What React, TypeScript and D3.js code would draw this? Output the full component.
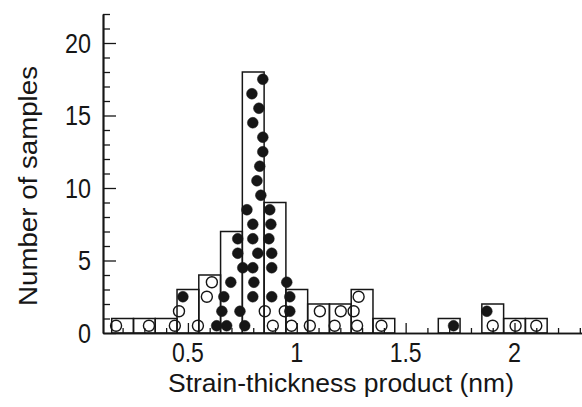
import { useEffect, useRef } from "react";
import * as d3 from "d3";

// histogram: bin centres (nm) and number of samples in each bin
const binCenters = [0.2, 0.3, 0.4, 0.5, 0.6, 0.7, 0.8, 0.9, 1.0, 1.1, 1.2, 1.3, 1.4, 1.5, 1.6, 1.7, 1.8, 1.9, 2.0, 2.1];
const binCounts = [1, 1, 1, 3, 4, 7, 18, 9, 3, 2, 2, 3, 1, 0, 0, 1, 0, 2, 1, 1];
const binWidth = 0.1;

// single samples drawn as dots: value (nm), stack level, filled (1) or open (0)
const sampleValues = [
    0.170, 0.321, 0.440,
    0.546, 0.459, 0.477,
    0.632, 0.656, 0.587, 0.610,
    0.678, 0.739, 0.665, 0.697, 0.752, 0.729, 0.729,
    0.761, 0.798, 0.803, 0.798, 0.821, 0.798, 0.798, 0.771, 0.835, 0.817, 0.830, 0.844, 0.844, 0.798, 0.826, 0.794, 0.844,
    0.890, 0.853, 0.885, 0.954, 0.885, 0.885, 0.872, 0.881, 0.876,
    0.976, 0.945, 0.968, 0.968,
    1.060, 1.106,
    1.174, 1.202,
    1.277, 1.261, 1.284,
    1.389,
    1.720,
    1.900, 1.873,
    2.005,
    2.100,
];
const sampleLevels = [
    1, 1, 1,
    1, 2, 3,
    1, 2, 3, 4,
    1, 2, 3, 4, 5, 6, 7,
    1, 3, 4, 5, 6, 7, 8, 9, 10, 11, 12, 13, 14, 15, 16, 17, 18,
    1, 2, 3, 4, 5, 6, 7, 8, 9,
    1, 2, 2, 3,
    1, 2,
    1, 2,
    1, 2, 3,
    1,
    1,
    1, 2,
    1,
    1,
];
const sampleFilled = [
    0, 0, 0,
    0, 0, 1,
    1, 1, 0, 0,
    1, 1, 1, 1, 1, 1, 1,
    1, 1, 1, 1, 1, 1, 1, 1, 1, 1, 1, 1, 1, 1, 1, 1, 1,
    0, 0, 1, 1, 1, 1, 1, 1, 1,
    0, 0, 1, 1,
    0, 0,
    0, 0,
    0, 0, 0,
    0,
    1,
    0, 1,
    0,
    0,
];

const yTicks = [0, 5, 10, 15, 20];
const xTicks = [0.5, 1, 1.5, 2];

const font = "'Liberation Sans Narrow', 'Liberation Sans', sans-serif";
const ink = '#161616';

// narrow look: squeeze glyphs to a fixed width per character
const labelWidth = (s: string) => s.split('').reduce((w, ch) => w + (ch === '.' ? 6 : 13), 0);

export default function App() {
    const svgRef = useRef<SVGSVGElement | null>(null);
    const wSVG = 582;
    const hSVG = 407;

    useEffect(() => {
        const svg = d3.select(svgRef.current);
        svg.selectAll('*').remove();

        const x = d3.scaleLinear().domain([0.11, 2.31]).range([103, 582]);
        const y = d3.scaleLinear().domain([0, 22]).range([333, 14]);

        // bars
        const bins = binCenters.map((c, i) => ({ c, n: binCounts[i] })).filter(b => b.n > 0);
        svg.append('g')
            .selectAll('rect')
            .data(bins)
            .join('rect')
            .attr('x', d => x(d.c - binWidth / 2))
            .attr('y', d => y(d.n))
            .attr('width', d => x(d.c + binWidth / 2) - x(d.c - binWidth / 2))
            .attr('height', d => y(0) - y(d.n))
            .attr('fill', 'none')
            .attr('stroke', ink)
            .attr('stroke-width', 1.5);

        // axes, ticks pointing inwards
        const minorX = d3.range(2, 24).map(d => d / 10).filter(d => !xTicks.includes(d));
        const gx = svg.append('g').attr('transform', `translate(0,${y(0)})`);
        gx.call(d3.axisBottom(x).tickValues(minorX).tickSizeInner(-5).tickSizeOuter(0).tickFormat(() => ''));
        gx.append('g').call(d3.axisBottom(x).tickValues(xTicks).tickSizeInner(-10).tickSizeOuter(0).tickFormat(() => ''));
        gx.selectAll('.domain').attr('stroke', ink).attr('stroke-width', 1.7);
        gx.selectAll('line').attr('stroke', ink).attr('stroke-width', 1.3);

        const minorY = d3.range(0, 23).filter(d => d % 5 !== 0);
        const gy = svg.append('g').attr('transform', `translate(${x(0.11)},0)`);
        gy.call(d3.axisLeft(y).tickValues(minorY).tickSizeInner(-7).tickSizeOuter(0).tickFormat(() => ''));
        gy.append('g').call(d3.axisLeft(y).tickValues(yTicks).tickSizeInner(-13).tickSizeOuter(0).tickFormat(() => ''));
        gy.selectAll('.domain').attr('stroke', ink).attr('stroke-width', 1.7);
        gy.selectAll('line').attr('stroke', ink).attr('stroke-width', 1.3);

        // sample dots
        const samples = sampleValues.map((v, i) => ({ v, k: sampleLevels[i], f: sampleFilled[i] }));
        svg.append('g')
            .selectAll('circle')
            .data(samples)
            .join('circle')
            .attr('cx', d => x(d.v))
            .attr('cy', d => y(d.k - 0.5))
            .attr('r', d => d.f ? 5.4 : 5.5)
            .attr('fill', d => d.f ? ink : 'none')
            .attr('stroke', ink)
            .attr('stroke-width', d => d.f ? 0.5 : 1.4);

        // tick labels
        svg.append('g')
            .selectAll('text')
            .data(yTicks)
            .join('text')
            .attr('x', 91)
            .attr('y', d => y(d))
            .attr('dy', '0.36em')
            .attr('text-anchor', 'end')
            .attr('textLength', d => labelWidth(String(d)))
            .attr('lengthAdjust', 'spacingAndGlyphs')
            .style('font-family', font)
            .style('font-size', '27px')
            .attr('fill', ink)
            .text(d => d);

        svg.append('g')
            .selectAll('text')
            .data(xTicks)
            .join('text')
            .attr('x', d => x(d))
            .attr('y', 362)
            .attr('text-anchor', 'middle')
            .attr('textLength', d => labelWidth(String(d)))
            .attr('lengthAdjust', 'spacingAndGlyphs')
            .style('font-family', font)
            .style('font-size', '28px')
            .attr('fill', ink)
            .text(d => d);

        // axis titles
        svg.append('text')
            .attr('x', 341)
            .attr('y', 392)
            .attr('text-anchor', 'middle')
            .attr('textLength', 346)
            .attr('lengthAdjust', 'spacingAndGlyphs')
            .style('font-family', font)
            .style('font-size', '26px')
            .attr('fill', ink)
            .text('Strain-thickness product (nm)');

        svg.append('text')
            .attr('transform', 'translate(37,186) rotate(-90)')
            .attr('text-anchor', 'middle')
            .attr('textLength', 240)
            .attr('lengthAdjust', 'spacingAndGlyphs')
            .style('font-family', font)
            .style('font-size', '25px')
            .attr('fill', ink)
            .text('Number of samples');
    }, []);

    return (
        <svg ref={svgRef} width={wSVG} height={hSVG}
            style={{ position: 'absolute', left: 0, top: 0, background: 'white' }} />
    );
}
